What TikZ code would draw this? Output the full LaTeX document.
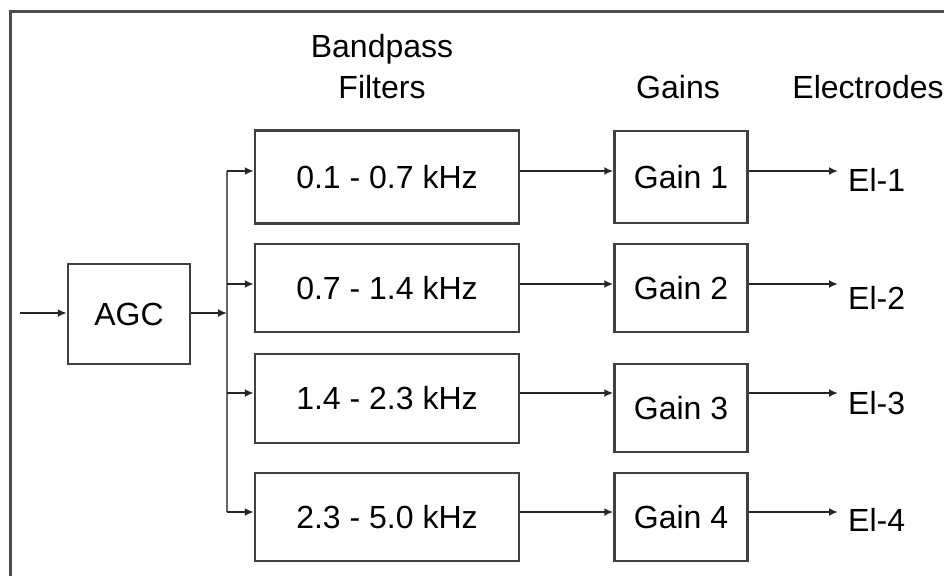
\documentclass[tikz,border=0pt]{standalone}
\usepackage{fontspec}
\setmainfont{Liberation Sans}
\usetikzlibrary{positioning, arrows.meta, calc}

\begin{document}
\begin{tikzpicture}[x=1pt, y=-1pt,
        font=\fontsize{32}{38}\selectfont,
        block/.style={draw=black!75, line width=2.5pt, minimum width=#1, minimum height=88pt, inner sep=0pt},
        label/.style={inner sep=0pt, anchor=west},
        sig/.style={draw=black!85, line width=1.8pt, -{Latex[length=9pt, width=8pt]}},
        wire/.style={draw=black!60, line width=2.5pt}]

        \useasboundingbox (0,0) rectangle (944,576);
        \draw[black!70, line width=3pt] (10,576) -- (10,11) -- (944,11);

        \node[block=122pt, minimum height=100pt] (agc) at (129,314) {AGC};
        \node[block=264pt, minimum height=93pt] (f1) at (387,177) {0.1 - 0.7 kHz};
        \node[block=264pt] (f2) at (387,288) {0.7 - 1.4 kHz};
        \node[block=264pt, minimum height=89pt] (f3) at (387,398.5) {1.4 - 2.3 kHz};
        \node[block=264pt] (f4) at (387,517) {2.3 - 5.0 kHz};
        \node[block=133pt, minimum height=92pt, right=93pt of f1] (g1) {Gain 1};
        \node[block=133pt, right=93pt of f2] (g2) {Gain 2};
        \node[block=133pt, right=93pt of f3, yshift=-9.5pt] (g3) {Gain 3};
        \node[block=133pt, right=93pt of f4] (g4) {Gain 4};

        \node[label] (e1) at (848,180) {El-1};
        \node[label] (e2) at (848,298) {El-2};
        \node[label] (e3) at (848,403) {El-3};
        \node[label] (e4) at (848,520) {El-4};

        \node[anchor=base] (hbp) at (382,57) {Bandpass};
        \node[anchor=base] (hf) at (382,98) {Filters};
        \node[anchor=base] (hg) at (678,98) {Gains};
        \node[anchor=base] (he) at (868,98) {Electrodes};

        \coordinate (in) at (20,313);
        \coordinate (bus) at (227,313);
        \coordinate (r1) at (0,171);
        \coordinate (r2) at (0,284);
        \coordinate (r3) at (0,393);
        \coordinate (r4) at (0,512);

        \draw[wire] (bus |- r1) -- (bus |- r4);
        \draw
            (in) edge[sig] (agc.west |- in)
            (agc.east |- in) edge[sig] (bus)
            (bus |- r1) edge[sig] (f1.west |- r1)
            (bus |- r2) edge[sig] (f2.west |- r2)
            (bus |- r3) edge[sig] (f3.west |- r3)
            (bus |- r4) edge[sig] (f4.west |- r4)
            (f1.east |- r1) edge[sig] (g1.west |- r1)
            (f2.east |- r2) edge[sig] (g2.west |- r2)
            (f3.east |- r3) edge[sig] (g3.west |- r3)
            (f4.east |- r4) edge[sig] (g4.west |- r4)
            (g1.east |- r1) edge[sig] ($(e1.west |- r1)+(-10,0)$)
            (g2.east |- r2) edge[sig] ($(e2.west |- r2)+(-10,0)$)
            (g3.east |- r3) edge[sig] ($(e3.west |- r3)+(-10,0)$)
            (g4.east |- r4) edge[sig] ($(e4.west |- r4)+(-10,0)$)
            ;
    \end{tikzpicture}
\end{document}
